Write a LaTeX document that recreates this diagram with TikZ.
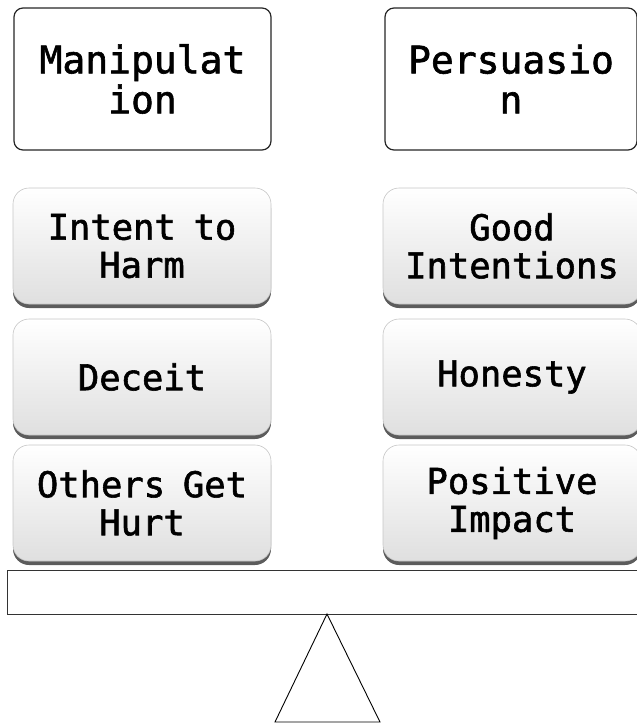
\documentclass[tikz,border=0pt]{standalone}
\usepackage{fontspec}
\setmainfont[FakeBold=1.6]{DejaVu Sans Mono}
\usetikzlibrary{shadows}
\tikzset{
  headbox/.style={draw=black!85, line width=1.2pt, rounded corners=9pt, fill=white,
    minimum width=257pt, minimum height=142pt, text width=250pt, align=center,
    inner sep=0pt, font=\fontsize{38}{40}\selectfont},
  itembox/.style={draw=gray!45, line width=0.6pt, rounded corners=16pt,
    top color=white, bottom color=gray!25,
    drop shadow={shadow xshift=0pt, shadow yshift=-4pt, fill=black!75, opacity=0.85},
    minimum width=258pt, minimum height=116pt, text width=254pt, align=center,
    inner sep=0pt, font=\fontsize{35.5}{38}\selectfont},
}
\begin{document}
\begin{tikzpicture}[x=1pt,y=-1pt]
\useasboundingbox (0,0) rectangle (637,724);
\node[headbox] (manip) at (142.5,79) {Manipulat\\ion};
\node[headbox, minimum width=252pt] (pers) at (511,79) {Persuasio\\n};
\node[itembox] (harm) at (142,246) {Intent\ \,to\\Harm};
\node[itembox] (deceit) at (142,377) {Deceit};
\node[itembox] (hurt) at (142,503) {Others\ \,Get\\Hurt};
\node[itembox] (good) at (512,246) {Good\\Intentions};
\node[itembox] (honest) at (512,377) {Honesty};
\node[itembox] (impact) at (512,503) {Positive\\Impact};
\draw[black!80, line width=1pt, fill=white] (7,570) rectangle (645,614);
\draw[black, line width=0.9pt] (327,614) -- (275,722) -- (380,722) -- cycle;
\end{tikzpicture}
\end{document}
